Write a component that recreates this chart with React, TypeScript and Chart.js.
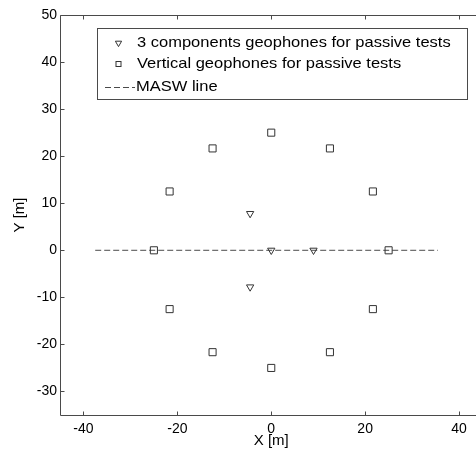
import React, { useEffect, useRef } from "react";
import { Chart, registerables } from "chart.js";

Chart.register(...registerables);

// Vertical geophones (squares)
const squareX = [25, 21.65, 12.5, 0, -12.5, -21.65, -25, -21.65, -12.5, 0, 12.5, 21.65];
const squareY = [0, 12.5, 21.65, 25, 21.65, 12.5, 0, -12.5, -21.65, -25, -21.65, -12.5];
// 3 component geophones (triangles)
const triX = [0, 9, -4.5, -4.5];
const triY = [0, 0, 7.8, -7.8];
// MASW line
const maswX = [-37.5, 35.5];
const maswY = [0, 0];

const legendLabels = [
  "3 components geophones for passive tests",
  "Vertical geophones for passive tests",
  "MASW line",
];
const xTitle = "X [m]";
const yTitle = "Y [m]";

const FONT = "'Liberation Sans', Arial, Helvetica, sans-serif";
const AXIS = "#4a4a4a";

export default function App() {
  const ref = useRef<HTMLCanvasElement>(null);

  useEffect(() => {
    const canvas = ref.current!;

    const frame = {
      id: "frame",
      afterDraw(chart: any) {
        const ctx = chart.ctx;
        const { left, right, top, bottom } = chart.chartArea;
        ctx.save();
        ctx.strokeStyle = AXIS;
        ctx.lineWidth = 1;
        ctx.beginPath();
        const L = Math.round(left) + 0.5, R = Math.round(right) + 0.5;
        const T = Math.round(top) + 0.5, B = Math.round(bottom) + 0.5;
        ctx.moveTo(L, T); ctx.lineTo(R, T); ctx.lineTo(R, B); ctx.lineTo(L, B); ctx.closePath();
        const tl = 4;
        chart.scales.x.ticks.forEach((t: any) => {
          const px = Math.round(chart.scales.x.getPixelForValue(t.value)) + 0.5;
          ctx.moveTo(px, B); ctx.lineTo(px, B - tl);
          ctx.moveTo(px, T); ctx.lineTo(px, T + tl);
        });
        chart.scales.y.ticks.forEach((t: any) => {
          const py = Math.round(chart.scales.y.getPixelForValue(t.value)) + 0.5;
          ctx.moveTo(L, py); ctx.lineTo(L + tl, py);
          ctx.moveTo(R, py); ctx.lineTo(R - tl, py);
        });
        ctx.stroke();
        ctx.restore();
      },
    };

    const legendBox = {
      id: "legendBox",
      afterDraw(chart: any) {
        const ctx = chart.ctx;
        const { left, top } = chart.chartArea;
        const bx = Math.round(left) + 37, by = Math.round(top) + 13;
        const bw = 370, bh = 71;
        ctx.save();
        ctx.fillStyle = "#fff";
        ctx.fillRect(bx, by, bw, bh);
        ctx.strokeStyle = AXIS;
        ctx.lineWidth = 1;
        ctx.strokeRect(bx + 0.5, by + 0.5, bw, bh);
        const rows = [by + 15, by + 36, by + 59];
        const mx = bx + 21.5;
        ctx.strokeStyle = "#333";
        // triangle down
        ctx.beginPath();
        const r = 3.6;
        ctx.moveTo(mx - r * 0.866, rows[0] - r * 0.5);
        ctx.lineTo(mx + r * 0.866, rows[0] - r * 0.5);
        ctx.lineTo(mx, rows[0] + r);
        ctx.closePath();
        ctx.stroke();
        // square
        ctx.strokeRect(mx - 2.5, rows[1] - 2.5, 5, 5);
        // dashed line
        ctx.strokeStyle = AXIS;
        ctx.setLineDash([6, 3]);
        ctx.beginPath();
        ctx.moveTo(bx + 8, rows[2] + 0.5);
        ctx.lineTo(bx + 38, rows[2] + 0.5);
        ctx.stroke();
        ctx.setLineDash([]);
        ctx.fillStyle = "#000";
        ctx.font = `15px ${FONT}`;
        ctx.textBaseline = "middle";
        ctx.textAlign = "left";
        const drawText = (s: string, x: number, y: number) => {
          ctx.save();
          ctx.translate(x, y);
          ctx.scale(1.1, 1);
          ctx.fillText(s, 0, 0);
          ctx.restore();
        };
        drawText(legendLabels[0], bx + 40, rows[0]);
        drawText(legendLabels[1], bx + 40, rows[1]);
        drawText(legendLabels[2], bx + 39, rows[2]);
        ctx.restore();
      },
    };

    const chart = new Chart(canvas, {
      type: "scatter",
      data: {
        datasets: [
          {
            type: "scatter",
            label: legendLabels[0],
            data: triX.map((x, i) => ({ x, y: triY[i] })),
            pointStyle: "triangle",
            pointRotation: 180,
            pointRadius: 4.2,
            borderColor: "#333",
            backgroundColor: "rgba(0,0,0,0)",
            borderWidth: 1,
            order: 1,
          },
          {
            type: "scatter",
            label: legendLabels[1],
            data: squareX.map((x, i) => ({ x, y: squareY[i] })),
            pointStyle: "rect",
            pointRadius: 5,
            borderColor: "#333",
            backgroundColor: "rgba(0,0,0,0)",
            borderWidth: 1,
            order: 2,
          },
          {
            type: "line",
            label: legendLabels[2],
            data: maswX.map((x, i) => ({ x, y: maswY[i] })),
            borderColor: AXIS,
            borderDash: [6, 3],
            borderWidth: 1,
            pointRadius: 0,
            showLine: true,
            fill: false,
            order: 3,
          } as any,
        ],
      },
      options: {
        animation: false,
        responsive: false,
        devicePixelRatio: 1,
        layout: { padding: { top: 15, right: 17.5, left: 0, bottom: 0 } },
        plugins: {
          legend: { display: false },
          tooltip: { enabled: false },
        },
        scales: {
          x: {
            type: "linear",
            min: -45,
            max: 45,
            afterFit: (s: any) => { s.height = 40; },
            grid: { display: false, drawTicks: false },
            border: { display: false },
            ticks: {
              stepSize: 20,
              includeBounds: false,
              padding: 6,
              color: "#000",
              font: { family: FONT, size: 14 },
              maxRotation: 0,
            },
            title: {
              display: true,
              text: xTitle,
              color: "#000",
              font: { family: FONT, size: 15 },
              padding: { top: 5, bottom: 5 },
            },
          },
          y: {
            type: "linear",
            min: -35,
            max: 50,
            afterFit: (s: any) => { s.width = 60; },
            grid: { display: false, drawTicks: false },
            border: { display: false },
            ticks: {
              stepSize: 10,
              includeBounds: false,
              padding: 3,
              color: "#000",
              font: { family: FONT, size: 14 },
            },
            title: {
              display: true,
              text: yTitle,
              color: "#000",
              font: { family: FONT, size: 15 },
              padding: { top: 11, bottom: 11 },
            },
          },
        },
      },
      plugins: [frame, legendBox],
    });

    return () => chart.destroy();
  }, []);

  return (
    <div
      style={{
        position: "fixed",
        left: 0,
        top: 0,
        width: 476,
        height: 455,
        overflow: "hidden",
        background: "#fff",
      }}
    >
      <canvas ref={ref} width={500} height={455} style={{ display: "block", width: 500, height: 455 }} />
    </div>
  );
}
